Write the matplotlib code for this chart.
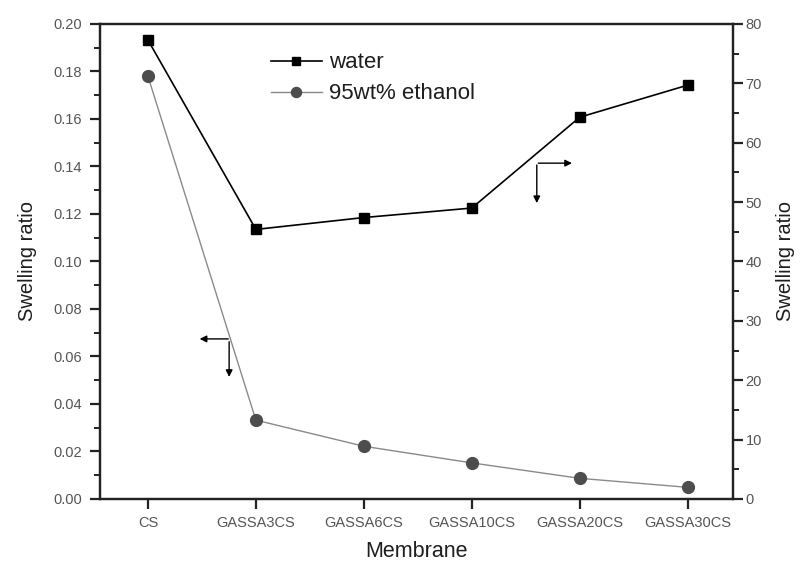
import matplotlib
matplotlib.use("Agg")
import matplotlib.pyplot as plt
from matplotlib.ticker import MultipleLocator

plt.rcParams["font.family"] = ["Liberation Sans", "DejaVu Sans"]

# membranes on the x axis
membranes = ["CS", "GASSA3CS", "GASSA6CS", "GASSA10CS", "GASSA20CS", "GASSA30CS"]
# swelling in water (right axis)
water = [77.3, 45.4, 47.4, 49.0, 64.3, 69.7]
# swelling in 95wt% ethanol (left axis)
ethanol = [0.178, 0.0332, 0.0222, 0.0152, 0.0087, 0.0049]

x = list(range(len(membranes)))
tick_grey = "#555555"
dark = "#1e1e1e"

fig = plt.figure(figsize=(8.02, 5.63), dpi=100)
ax = fig.add_axes([0.1247, 0.1137, 0.7893, 0.8437])
ax2 = ax.twinx()

# ethanol on the left axis
ax.plot(x, ethanol, color="#8a8a8a", lw=1.0, marker="o", ms=8.5,
        mfc="#4d4d4d", mec="#4d4d4d", label="95wt% ethanol", zorder=3)
ax.set_ylim(0, 0.20)
ax.set_xlim(-0.444, 5.42)
ax.yaxis.set_major_locator(MultipleLocator(0.02))
ax.yaxis.set_minor_locator(MultipleLocator(0.01))
ax.yaxis.set_major_formatter(plt.FormatStrFormatter("%.2f"))

# water on the right axis
ax2.plot(x, water, color="black", lw=1.2, marker="s", ms=7.5,
         mfc="black", mec="black", label="water", zorder=3)
ax2.set_ylim(0, 80)
ax2.yaxis.set_major_locator(MultipleLocator(10))
ax2.yaxis.set_minor_locator(MultipleLocator(5))

ax.set_xticks(x)
ax.set_xticklabels(membranes)

for a in (ax, ax2):
    for sp in a.spines.values():
        sp.set_linewidth(1.6)
        sp.set_color("#222222")
    a.tick_params(which="major", direction="out", length=7, width=1.6,
                  labelsize=10.5, labelcolor=tick_grey, color="#222222")
    a.tick_params(which="minor", direction="out", length=4, width=1.4,
                  color="#222222")
ax.tick_params(axis="x", which="minor", bottom=False)
ax.tick_params(axis="x", pad=5)
ax.tick_params(axis="y", pad=6)
ax2.tick_params(axis="y", pad=2)

ax.set_xlabel("Membrane", fontsize=15.5, color=dark, labelpad=8)
ax.set_ylabel("Swelling ratio", fontsize=14.5, color=dark, labelpad=12)
ax2.set_ylabel("Swelling ratio", fontsize=14.5, color=dark, labelpad=10)

# legend
h2, l2 = ax2.get_legend_handles_labels()
h1, l1 = ax.get_legend_handles_labels()
leg = ax.legend(h2 + h1, l2 + l1, loc="upper left", bbox_to_anchor=(0.27, 0.94),
                frameon=False, fontsize=16, handlelength=2.3, handletextpad=0.3,
                labelspacing=0.45, borderpad=0, borderaxespad=0, markerscale=0.85)
for t in leg.get_texts():
    t.set_color(dark)

# arrows showing which axis each curve belongs to
arrow = dict(arrowstyle="-|>", color="black", lw=1.0, mutation_scale=10)
ax.annotate("", xy=(0.153, 0.337), xytext=(0.207, 0.337),
            xycoords="axes fraction", arrowprops=arrow)
ax.annotate("", xy=(0.204, 0.251), xytext=(0.204, 0.337),
            xycoords="axes fraction", arrowprops=arrow)
ax.annotate("", xy=(0.750, 0.707), xytext=(0.688, 0.707),
            xycoords="axes fraction", arrowprops=arrow)
ax.annotate("", xy=(0.690, 0.617), xytext=(0.690, 0.709),
            xycoords="axes fraction", arrowprops=arrow)

fig.savefig("out.png", dpi=100)
